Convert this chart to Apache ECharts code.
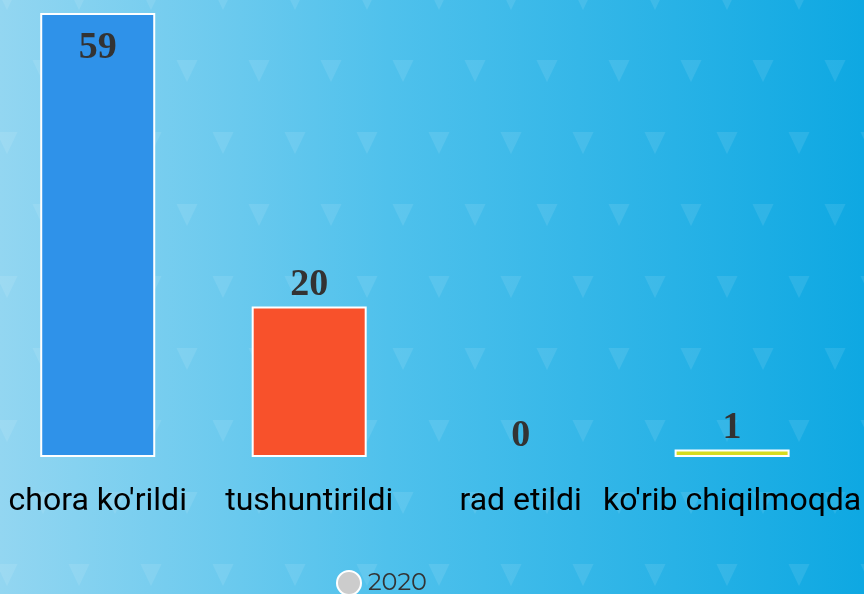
<!DOCTYPE html>
<html>
<head>
<meta charset="utf-8">
<script src="https://cdn.jsdelivr.net/npm/echarts@6/dist/echarts.min.js"></script>
<style>
html,body{margin:0;padding:0;width:864px;height:594px;overflow:hidden;position:relative;}
#bg{position:absolute;left:0;top:0;width:864px;height:594px;
background-image:url("data:image/svg+xml;utf8,<svg xmlns='http://www.w3.org/2000/svg' width='72' height='144'><g fill='white' fill-opacity='0.09'><polygon points='32.5,60 53.5,60 43,82'/><polygon points='-3.5,132 17.5,132 7,154'/><polygon points='68.5,132 89.5,132 79,154'/><polygon points='-3.5,-12 17.5,-12 7,10'/><polygon points='68.5,-12 89.5,-12 79,10'/></g></svg>"),linear-gradient(to right,#93d6f1 0%,#4fc1ec 45%,#0ea8e2 100%);}
#chart{position:absolute;left:-8px;top:0;width:872px;height:594px;}
</style>
</head>
<body>
<div id="bg"></div>
<div id="chart"></div>
<script>
const categories = ["chora ko'rildi", "tushuntirildi", "rad etildi", "ko'rib chiqilmoqda"];
const values = [59, 20, 0, 1];
const seriesName = "2020";
const barColors = ["#2f92e9", "#f8512b", "#9e9e9e", "#d6dc1f"];

const chart = echarts.init(document.getElementById('chart'), null, {renderer: 'canvas'});
const option = {
  backgroundColor: 'transparent',
  animation: false,
  grid: {left: 0, right: 24, top: 13, bottom: 137},
  legend: {
    data: [seriesName], left: 344, top: 570, padding: 0, icon: 'circle',
    itemWidth: 24, itemHeight: 24, itemGap: 9,
    itemStyle: {color: '#cccccc'},
    textStyle: {fontSize: 24, color: '#333', fontFamily: 'Montserrat, Lato, sans-serif', padding: [0, 0, 0, 2]}
  },
  xAxis: {
    type: 'category', data: categories,
    axisLine: {show: false}, axisTick: {show: false}, splitLine: {show: false},
    axisLabel: {fontSize: 32, color: '#000', margin: 29, interval: 0,
      fontFamily: 'Roboto, sans-serif'}
  },
  yAxis: {type: 'value', min: 0, max: 59, show: false, splitLine: {show: false}},
  series: [{
    name: seriesName, type: 'bar', barWidth: 115,
    itemStyle: {borderColor: '#fff', borderWidth: 2},
    label: {show: true, position: 'top', distance: 2, fontSize: 38, fontWeight: 'bold',
      color: '#333', fontFamily: '"Liberation Serif", "Times New Roman", serif'},
    data: values.map((v, i) => ({
      value: v,
      itemStyle: {color: barColors[i], borderWidth: v === 0 ? 0 : 2},
      label: i === 0 ? {position: 'insideTop', distance: 16} : {}
    }))
  }]
};
chart.setOption(option);
</script>
</body>
</html>
